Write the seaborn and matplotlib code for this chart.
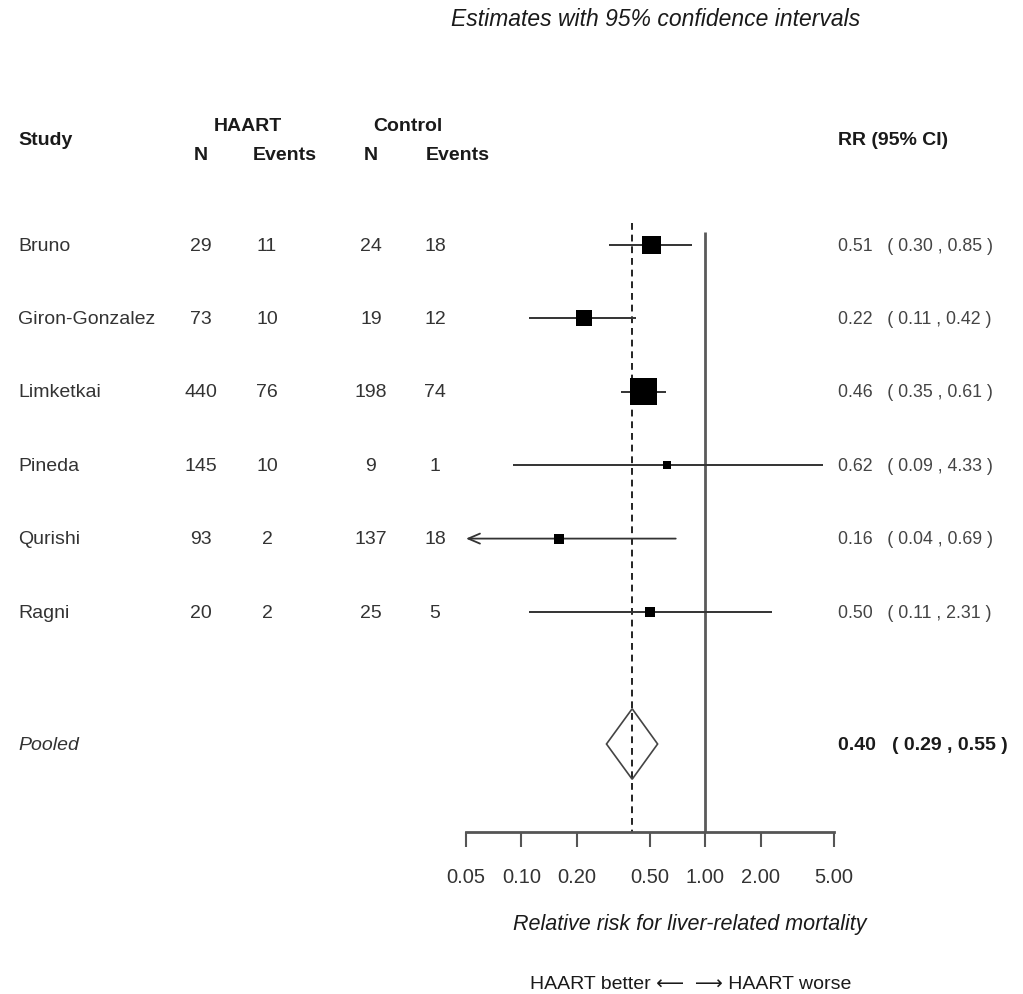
import numpy as np
import pandas as pd
import matplotlib
matplotlib.use("Agg")
import matplotlib.pyplot as plt
import matplotlib.transforms as mtransforms
from matplotlib.patches import Polygon
from matplotlib.ticker import NullLocator
import seaborn as sns

# ---------------- data ----------------
studies = ["Bruno", "Giron-Gonzalez", "Limketkai", "Pineda", "Qurishi", "Ragni"]
haart_n = [29, 73, 440, 145, 93, 20]
haart_events = [11, 10, 76, 10, 2, 2]
control_n = [24, 19, 198, 9, 137, 25]
control_events = [18, 12, 74, 1, 18, 5]
rr = [0.51, 0.22, 0.46, 0.62, 0.16, 0.50]
ci_low = [0.30, 0.11, 0.35, 0.09, 0.04, 0.11]
ci_high = [0.85, 0.42, 0.61, 4.33, 0.69, 2.31]
pooled_label = "Pooled"
pooled_rr = 0.40
pooled_low = 0.29
pooled_high = 0.55
tick_values = [0.05, 0.10, 0.20, 0.50, 1.00, 2.00, 5.00]
tick_labels = ["0.05", "0.10", "0.20", "0.50", "1.00", "2.00", "5.00"]

# ---------------- style ----------------
sns.set_theme(style="white")
plt.rcParams["font.family"] = ["Liberation Sans", "DejaVu Sans"]
TXT = "#333333"
HDR = "#1a1a1a"

W, H = 1023, 995
fig = plt.figure(figsize=(W / 100, H / 100), dpi=100)

ROW0_PX, ROW_PX = 246.0, 73.4
AX_TOP_PX, AX_BOT_PX = 120.0, 833.0
X0_PX, X1_PX = 466.0, 834.0


def py(px):
    return (px - ROW0_PX) / ROW_PX


def fx(px):
    return px / W


ax = fig.add_axes([X0_PX / W, 1 - AX_BOT_PX / H, (X1_PX - X0_PX) / W, (AX_BOT_PX - AX_TOP_PX) / H])
ax.patch.set_visible(False)
ax.set_xscale("log")
xmin, xmax = tick_values[0], tick_values[-1]
ax.set_xlim(xmin, xmax)
ax.set_ylim(py(AX_BOT_PX), py(AX_TOP_PX))

pos = np.arange(len(studies), dtype=float)
pooled_pos = py(745)

df = pd.DataFrame({"study": studies, "rr": rr, "low": ci_low, "high": ci_high, "pos": pos})

# box size from inverse-variance weight
se = (np.log(df["high"]) - np.log(df["low"])) / (2 * 1.96)
w = 1 / se ** 2
side_pt = 19.5 * (w / w.max()) ** 0.3
sizes = {s: float(a) ** 2 for s, a in zip(df["study"], side_pt)}

# reference lines
ax.vlines(1.0, py(233), py(AX_BOT_PX), colors="#5a5a5a", lw=2.0, zorder=1)
ax.vlines(pooled_rr, py(224), py(AX_BOT_PX), colors="#222222", lw=1.4,
          linestyles=(0, (3.5, 2.5)), zorder=2)

# CI lines
for _, r in df.iterrows():
    lo = max(r["low"], xmin)
    hi = min(r["high"], xmax)
    if r["low"] < xmin:
        ax.annotate("", xy=(xmin, r["pos"]), xytext=(hi, r["pos"]),
                    arrowprops=dict(arrowstyle="->,head_length=0.7,head_width=0.3",
                                    color="#333333", lw=1.3, shrinkA=0, shrinkB=0),
                    zorder=2)
    else:
        ax.hlines(r["pos"], lo, hi, colors="#333333", lw=1.4, zorder=2)

sns.scatterplot(data=df, x="rr", y="pos", size="study", sizes=sizes, marker="s",
                color="black", linewidth=0, legend=False, ax=ax, zorder=4)

# pooled diamond
h = 0.48
diamond = Polygon([(pooled_low, pooled_pos), (pooled_rr, pooled_pos - h),
                   (pooled_high, pooled_pos), (pooled_rr, pooled_pos + h)],
                  closed=True, fill=False, edgecolor="#444444", lw=1.2, zorder=3)
ax.add_patch(diamond)

# axis styling
for sp in ["top", "left", "right"]:
    ax.spines[sp].set_visible(False)
ax.spines["bottom"].set_color("#555555")
ax.spines["bottom"].set_linewidth(2.0)
ax.set_yticks([])
ax.set_xticks(tick_values)
ax.set_xticklabels(tick_labels)
ax.xaxis.set_minor_locator(NullLocator())
ax.tick_params(axis="x", direction="out", length=11, width=1.5, color="#555555",
               pad=14, labelsize=14.5, labelcolor=TXT, bottom=True)
ax.set_xlabel("")
ax.set_ylabel("")

trans = mtransforms.blended_transform_factory(fig.transFigure, ax.transData)


def t(xpx, ypx_or_row, s, row=False, **kw):
    y = ypx_or_row if row else py(ypx_or_row)
    kw.setdefault("color", TXT)
    kw.setdefault("va", "center")
    ax.text(fx(xpx), y, s, transform=trans, clip_on=False, **kw)


# headers
t(18, 140, "Study", ha="left", fontsize=14, fontweight="bold", color=HDR)
t(248, 126, "HAART", ha="center", fontsize=14, fontweight="bold", color=HDR)
t(408, 126, "Control", ha="center", fontsize=14, fontweight="bold", color=HDR)
t(201, 155, "N", ha="center", fontsize=14, fontweight="bold", color=HDR)
t(285, 155, "Events", ha="center", fontsize=14, fontweight="bold", color=HDR)
t(371, 155, "N", ha="center", fontsize=14, fontweight="bold", color=HDR)
t(458, 155, "Events", ha="center", fontsize=14, fontweight="bold", color=HDR)
t(838, 140, "RR (95% CI)", ha="left", fontsize=14, fontweight="bold", color=HDR)

# rows
for i, s in enumerate(studies):
    y = pos[i]
    t(18, y, s, row=True, ha="left", fontsize=14)
    t(201, y, str(haart_n[i]), row=True, ha="center", fontsize=14)
    t(267, y, str(haart_events[i]), row=True, ha="center", fontsize=14)
    t(371, y, str(control_n[i]), row=True, ha="center", fontsize=14)
    t(435, y, str(control_events[i]), row=True, ha="center", fontsize=14)
    t(838, y, f"{rr[i]:.2f}   ( {ci_low[i]:.2f} , {ci_high[i]:.2f} )", row=True,
      ha="left", fontsize=12.8, color="#444444")

t(18, pooled_pos, pooled_label, row=True, ha="left", fontsize=14, style="italic")
t(838, pooled_pos, f"{pooled_rr:.2f}   ( {pooled_low:.2f} , {pooled_high:.2f} )", row=True,
  ha="left", fontsize=14, fontweight="bold", color=HDR)

# titles / labels
fig.text(fx(656), 1 - 19 / H, "Estimates with 95% confidence intervals", ha="center",
         va="center", style="italic", fontsize=16.5, color=HDR)
fig.text(fx(690), 1 - 925 / H, "Relative risk for liver-related mortality", ha="center",
         va="center", style="italic", fontsize=15.5, color=HDR)
fig.text(fx(691), 1 - 985 / H, "HAART better \u27f5  \u27f6 HAART worse", ha="center",
         va="center", fontsize=14, color=HDR,
         family=["Liberation Sans", "DejaVu Sans"])

fig.savefig("out.png", dpi=100)
